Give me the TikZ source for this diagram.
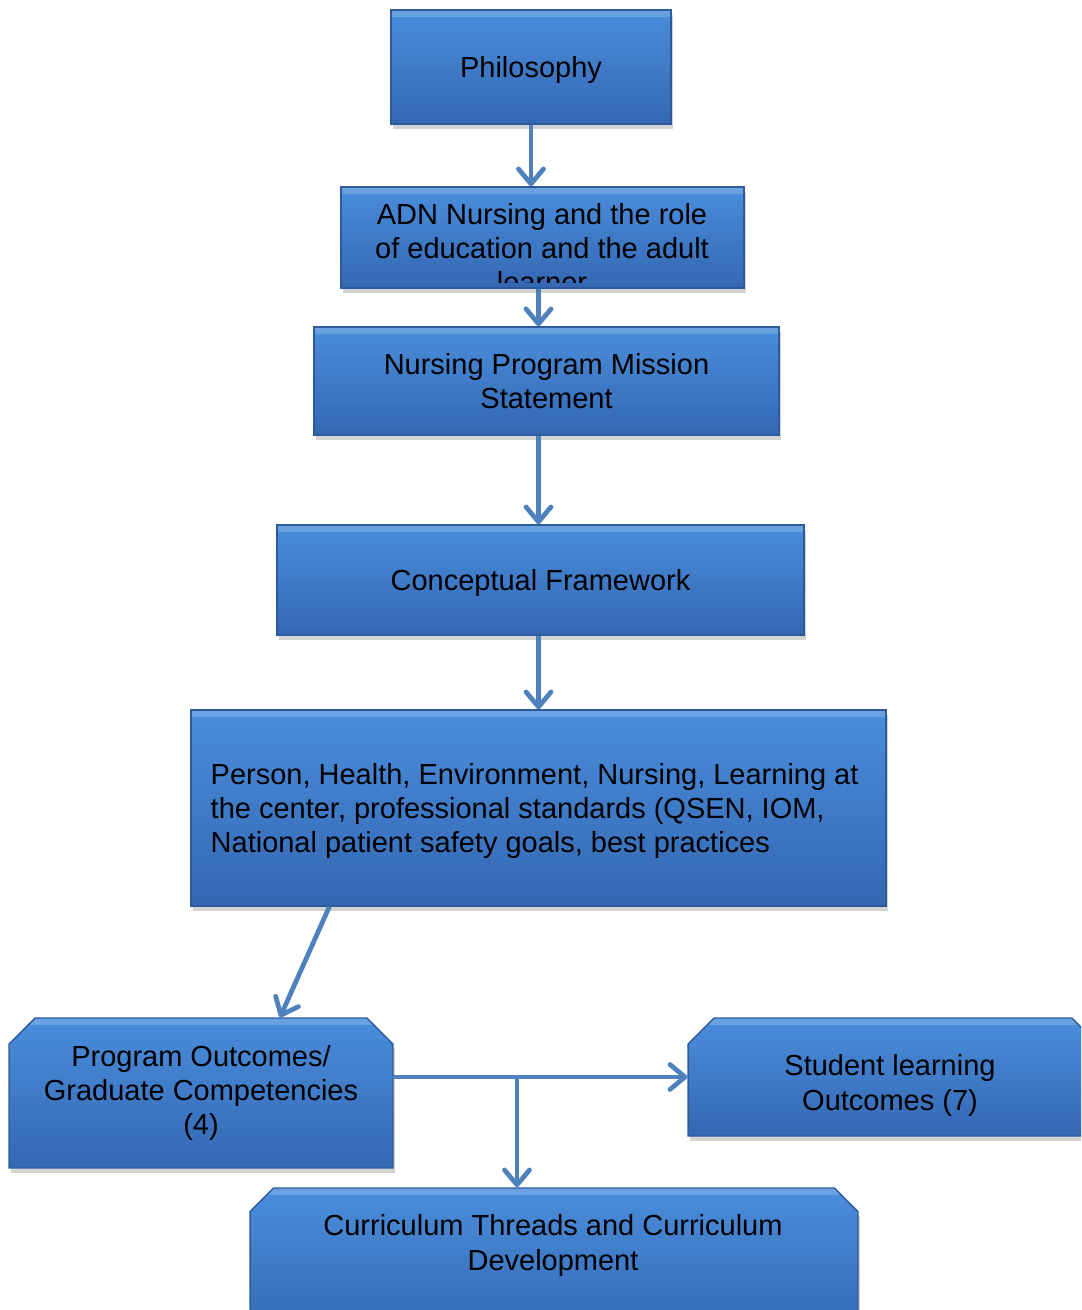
\documentclass[tikz,border=0pt]{standalone}
\usepackage{fontspec}
\setmainfont{Liberation Sans}
\usetikzlibrary{arrows.meta,shapes.misc,shadows}

\definecolor{boxtop}{HTML}{4A8EDC}
\definecolor{boxbot}{HTML}{3467B2}
\definecolor{boxline}{HTML}{2D5A99}
\definecolor{flow}{HTML}{4F81BD}

\begin{document}
\begin{tikzpicture}[x=0.02cm,y=-0.02cm,
  box/.style={rectangle,draw=boxline,line width=0.8pt,top color=boxtop,bottom color=boxbot,
    drop shadow={opacity=0.35,shadow xshift=0.04cm,shadow yshift=-0.1cm},
    path picture={\fill[white,opacity=0.18] (path picture bounding box.north west) rectangle ([yshift=-0.14cm]path picture bounding box.north east);},
    inner sep=0pt,font=\fontsize{16.5}{19.4}\selectfont,align=center},
  chambox/.style={box,chamfered rectangle,chamfered rectangle corners={north west,north east},
    chamfered rectangle xsep=0.26cm,chamfered rectangle ysep=0.26cm},
  txt/.style={font=\fontsize{16.5}{19.4}\selectfont,align=center,inner sep=0pt,text depth=0pt},
  flowline/.style={draw=flow,line width=2.7pt,-{Straight Barb[length=0.3cm,width=0.5cm,line width=2.7pt,round]}}]
\useasboundingbox (0,0) rectangle (1081,1310);
\clip (0,0) rectangle (1081,1310);

% boxes
\node[box,text depth=0pt,minimum width=5.6cm,minimum height=2.28cm] (philo) at (531,67) {Philosophy};
\node[box,minimum width=8.06cm,minimum height=2.02cm] (adn) at (542.5,237.5) {};
\begin{scope}
\clip ([yshift=0.12cm]adn.south west) rectangle (adn.north east);
\node[txt] (adntxt) at (542,248) {ADN Nursing and the role\\of education and the adult\\learner};
\end{scope}
\node[box,minimum width=9.3cm,minimum height=2.16cm] (mission) at (546.5,381) {Nursing Program Mission\\Statement};
\node[box,text depth=0pt,minimum width=10.54cm,minimum height=2.2cm] (concept) at (540.5,580) {Conceptual Framework};
\node[box,minimum width=13.9cm,minimum height=3.92cm] (person) at (538.5,808) {};
\node[txt,align=left,anchor=west] (persontxt) at ([xshift=0.4cm]person.west) {Person, Health, Environment, Nursing, Learning at\\the center, professional standards (QSEN, IOM,\\National patient safety goals, best practices};
\node[chambox,minimum width=7.68cm,minimum height=3cm] (prog) at (201,1093) {Program Outcomes/\\Graduate Competencies\\(4)};
\node[chambox,minimum width=8.2cm,minimum height=2.36cm] (stud) at (893,1077) {\phantom{Student learning}};
\node[txt] (studtxt) at (890,1082.5) {Student learning\\Outcomes (7)};
\node[chambox,minimum width=12.16cm,minimum height=3cm] (curr) at (554,1263) {\phantom{Curriculum Threads}};
\node[txt] (currtxt) at (553,1242.5) {Curriculum Threads and Curriculum\\Development};

% connectors
\draw[flowline] (philo.south) -- (philo.south |- adn.north);
\draw[flowline] (adn.south -| person.north) -- (mission.north -| person.north);
\draw[flowline] (mission.south -| person.north) -- (concept.north -| person.north);
\draw[flowline] (concept.south -| person.north) -- (person.north);
\draw[flowline] ([xshift=2.78cm]person.south west) -- ([xshift=1.58cm]prog.north);
\coordinate (split) at ([xshift=-0.74cm]curr.north |- stud.west);
\draw[flowline] (prog.east |- stud.west) -- (stud.west);
\draw[flowline] (split) -- (split |- curr.north);
\end{tikzpicture}
\end{document}
